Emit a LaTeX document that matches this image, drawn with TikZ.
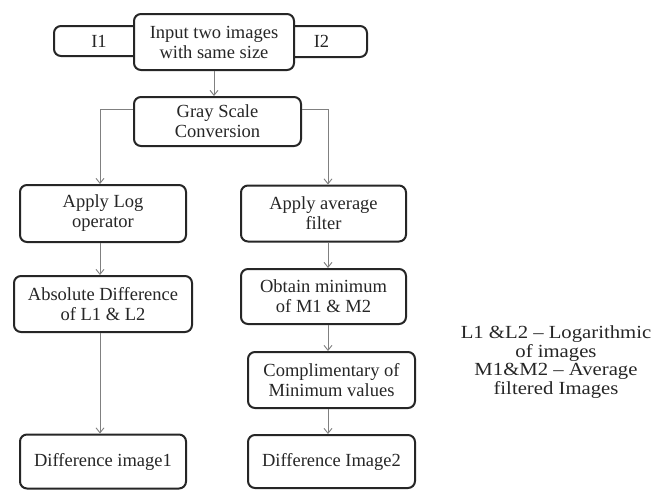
\documentclass[tikz,border=0pt]{standalone}
\usepackage{graphicx}
\usepackage{fontspec}
\setmainfont{Liberation Serif}
\usetikzlibrary{arrows.meta}
\begin{document}
\begin{tikzpicture}[x=1pt,y=-1pt,
  box/.style={draw=black!85, line width=2pt, rounded corners=7pt, fill=white,
    align=center, inner sep=0pt, font=\fontsize{18.5}{20}\selectfont, text=black!85},
  conn/.style={draw=black!50, line width=0.9pt, -{Straight Barb[length=5pt,width=8pt]}},
]
\useasboundingbox[fill=white] (0,0) rectangle (656,491);
% top row
\node[box, minimum width=90pt, minimum height=30pt] (i1) at (99,41) {I1};
\node[box, minimum width=91pt, minimum height=31pt] (i2) at (321.5,41.5) {I2};
\node[box, minimum width=160pt, minimum height=56pt] (in) at (214,42) {Input two images\\with same size};
\node[box, minimum width=167pt, minimum height=49pt] (gray) at (217.5,121.5) {Gray Scale\\Conversion};
% left column
\node[box, minimum width=166pt, minimum height=57pt] (log) at (103,213.5) {Apply Log\\operator};
\node[box, minimum width=178pt, minimum height=56pt] (abs) at (103,304) {Absolute Difference\\of L1 \& L2};
\node[box, minimum width=166pt, minimum height=54pt] (d1) at (103,461.5) {Difference image1};
% right column
\node[box, minimum width=165pt, minimum height=56pt] (avg) at (323.5,213.5) {Apply average\\filter};
\node[box, minimum width=165pt, minimum height=55pt] (min) at (323.5,296.5) {Obtain minimum\\of M1 \& M2};
\node[box, minimum width=167pt, minimum height=56pt] (cmp) at (331.5,380) {Complimentary of\\Minimum values};
\node[box, minimum width=167pt, minimum height=53pt] (d2) at (331.5,461.5) {Difference Image2};
% legend
\node[align=center, inner sep=0pt, text=black!85, font=\fontsize{18.5}{18.5}\selectfont] (legend) at (556,362)
  {\scalebox{1.12}[1]{L1 \&L2 – Logarithmic}\\\scalebox{1.12}[1]{of images}\\\scalebox{1.12}[1]{M1\&M2 – Average}\\\scalebox{1.12}[1]{filtered Images}};
% connectors
\coordinate (lx) at (100,0);
\coordinate (rx) at (328,0);
\draw[conn] (in.south) -- (in.south |- gray.north);
\draw[conn] ([yshift=12.5pt]gray.west) -| (lx |- log.north);
\draw[conn] ([yshift=12.5pt]gray.east) -| (rx |- avg.north);
\draw[conn] (lx |- log.south) -- (lx |- abs.north);
\draw[conn] (lx |- abs.south) -- (lx |- d1.north);
\draw[conn] (rx |- avg.south) -- (rx |- min.north);
\draw[conn] (rx |- min.south) -- (rx |- cmp.north);
\draw[conn] (rx |- cmp.south) -- (rx |- d2.north);
\end{tikzpicture}
\end{document}
